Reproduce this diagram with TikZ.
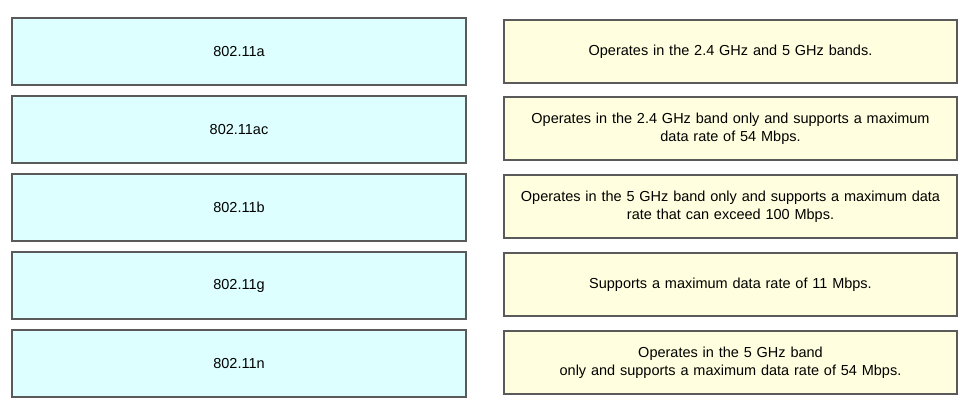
\documentclass[tikz,border=0pt]{standalone}
\usepackage{fontspec}
\setmainfont{Liberation Sans}
\usetikzlibrary{positioning}

\definecolor{termfill}{HTML}{DDFFFF}
\definecolor{descfill}{HTML}{FFFFDF}
\definecolor{boxline}{HTML}{5A5A5A}

\tikzset{
  termbox/.style={draw=boxline, line width=1.2pt, fill=termfill, minimum width=454pt,
    minimum height=67pt, inner sep=2pt, font=\fontsize{14.5}{18}\selectfont},
  descbox/.style={draw=boxline, line width=1.2pt, fill=descfill, minimum width=453pt,
    minimum height=63pt, inner sep=2pt, text width=448pt, align=center,
    font=\fontsize{14.5}{18}\selectfont}
}

\begin{document}
\begin{tikzpicture}[x=1pt,y=-1pt]
  \useasboundingbox (0,0) rectangle (975,417);
  % Standards on the left
  \foreach \name/\txt [count=\i from 0] in {ta/802.11a, tac/802.11ac, tb/802.11b, tg/802.11g, tn/802.11n}
    \node[termbox] (\name) at (239,{51.5+78*\i}) {\txt};

  % Descriptions on the right
  \node[descbox] (d1) at (730.5,51.5) {Operates in the 2.4 GHz and 5 GHz bands.};
  \node[descbox] (d2) at (730.5,128.5) {Operates in the 2.4 GHz band only and supports a maximum\\ data rate of 54 Mbps.};
  \node[descbox] (d3) at (730.5,206.5) {Operates in the 5 GHz band only and supports a maximum data\\ rate that can exceed 100 Mbps.};
  \node[descbox] (d4) at (730.5,284.5) {Supports a maximum data rate of 11 Mbps.};
  \node[descbox] (d5) at (730.5,362.5) {Operates in the 5 GHz band\\ only and supports a maximum data rate of 54 Mbps.};
\end{tikzpicture}
\end{document}
